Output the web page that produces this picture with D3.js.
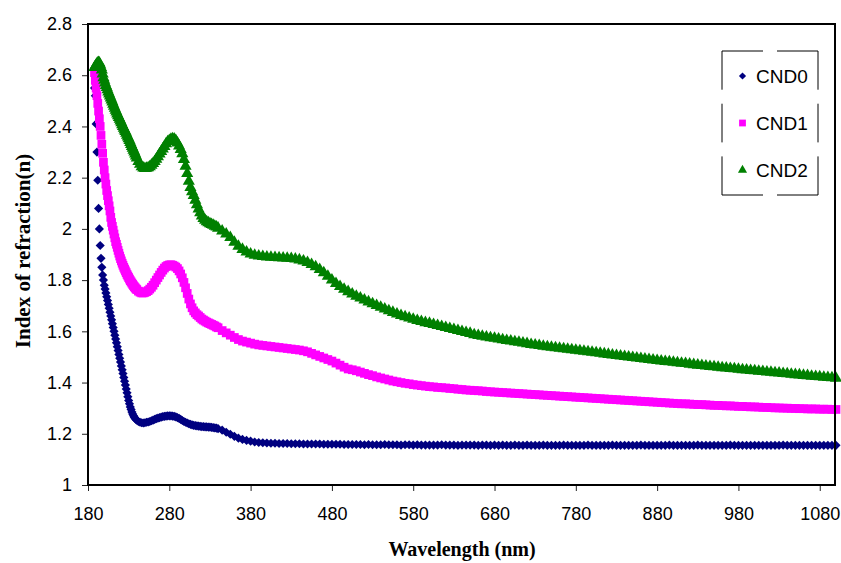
<!DOCTYPE html>
<html>
<head>
<meta charset="utf-8">
<script src="https://cdn.jsdelivr.net/npm/d3@7"></script>
<style>
  body { margin: 0; background: #fff; }
  svg text { font-family: Arial, "Liberation Sans", sans-serif; fill: #000; }
</style>
</head>
<body>
<div id="chart"></div>
<script>
// wavelength samples (nm)
const wavelength = [
  188,189,190,191,192,193,194,195,196,197,198,199,200,201,202,203,204,205,206,207,
  208,209,210,211,212,213,214,215,216,217,218,219,220,
  221,222,223,224,225,226,227,228,229,230,231,232,233,234,235,236,237,238,239,240,
  242,244,246,248,250,252,254,256,258,260,
  262,264,266,268,270,272,274,276,278,280,
  282,284,286,288,290,292,294,296,298,300,
  302,304,306,308,310,312,314,316,318,320,
  322,324,326,328,330,332,334,336,338,340,
  345,350,
  355,360,365,370,375,380,385,390,395,400,
  405,410,415,420,425,430,435,440,445,450,
  455,460,465,470,475,480,485,490,495,500,
  505,510,515,520,525,530,535,540,545,550,
  555,560,565,570,575,580,585,590,595,600,
  605,610,615,620,625,630,635,640,645,650,
  655,660,665,670,675,680,685,690,695,700,
  705,710,715,720,725,730,735,740,745,750,
  755,760,765,770,775,780,785,790,795,800,
  805,810,815,820,825,830,835,840,845,850,
  855,860,865,870,875,880,885,890,895,900,
  905,910,915,920,925,930,935,940,945,950,
  955,960,965,970,975,980,985,990,995,1000,
  1005,1010,1015,1020,1025,1030,1035,1040,1045,1050,
  1055,1060,1065,1070,1075,1080,1085,1090,1095,1100
];

const cnd0 = [
  2.55,2.52,2.41,2.30,2.19,2.08,2.00,1.935,1.885,1.85,1.82,1.80,1.78,1.765,1.75,1.735,1.72,1.705,1.69,1.675,
  1.66,1.645,1.63,1.615,1.60,1.585,1.57,1.555,1.54,1.525,1.51,1.495,1.48,
  1.465,1.45,1.435,1.42,1.405,1.39,1.375,1.36,1.345,1.33,1.317,1.305,1.295,1.285,1.277,1.27,1.265,1.26,1.256,1.253,
  1.248,1.245,1.243,1.242,1.243,1.245,1.246,1.248,1.251,1.253,
  1.256,1.259,1.261,1.263,1.265,1.267,1.268,1.269,1.27,1.27,
  1.27,1.269,1.268,1.266,1.263,1.26,1.256,1.252,1.248,1.245,
  1.242,1.239,1.237,1.235,1.233,1.232,1.231,1.23,1.229,1.228,
  1.228,1.227,1.227,1.226,1.226,1.225,1.224,1.223,1.222,1.22,
  1.214,1.206,
  1.198,1.19,1.183,1.178,1.174,1.171,1.168,1.166,1.165,1.164,
  1.163,1.163,1.162,1.162,1.162,1.161,1.161,1.161,1.16,1.16,
  1.16,1.16,1.16,1.159,1.159,1.159,1.159,1.159,1.158,1.158,
  1.158,1.158,1.158,1.157,1.158,1.157,1.157,1.157,1.158,1.157,
  1.157,1.157,1.156,1.157,1.157,1.156,1.157,1.156,1.156,1.156,
  1.156,1.156,1.157,1.156,1.156,1.156,1.155,1.156,1.156,1.156,
  1.156,1.155,1.156,1.156,1.155,1.156,1.155,1.156,1.155,1.155,
  1.156,1.155,1.155,1.156,1.155,1.155,1.155,1.156,1.155,1.155,
  1.155,1.155,1.156,1.155,1.155,1.155,1.155,1.155,1.156,1.155,
  1.155,1.155,1.155,1.155,1.156,1.155,1.155,1.155,1.155,1.155,
  1.155,1.156,1.155,1.155,1.155,1.155,1.155,1.155,1.156,1.155,
  1.155,1.155,1.155,1.155,1.155,1.156,1.155,1.155,1.155,1.155,
  1.155,1.155,1.155,1.156,1.155,1.155,1.155,1.155,1.155,1.155,
  1.155,1.155,1.155,1.155,1.155,1.155,1.156,1.155,1.155,1.155,
  1.155,1.155,1.155,1.155,1.155,1.155,1.155,1.155,1.155,1.155
];

const cnd1 = [
  2.61,2.58,2.55,2.52,2.49,2.46,2.43,2.40,2.365,2.33,2.295,2.26,2.23,2.20,2.175,2.15,2.13,2.11,2.09,2.07,
  2.045,2.025,2.01,1.995,1.98,1.965,1.95,1.94,1.928,1.916,1.905,1.894,1.884,
  1.875,1.866,1.858,1.85,1.843,1.836,1.829,1.822,1.816,1.81,1.804,1.798,1.793,1.788,1.783,1.778,1.774,1.77,1.766,1.763,
  1.757,1.753,1.75,1.75,1.752,1.755,1.759,1.765,1.772,1.78,
  1.79,1.8,1.81,1.82,1.83,1.839,1.847,1.853,1.857,1.859,
  1.86,1.858,1.855,1.851,1.845,1.836,1.824,1.809,1.791,1.77,
  1.748,1.726,1.707,1.692,1.68,1.672,1.665,1.66,1.654,1.648,
  1.644,1.64,1.636,1.633,1.63,1.627,1.624,1.621,1.617,1.614,
  1.603,1.594,
  1.585,1.576,1.568,1.562,1.558,1.554,1.55,1.547,1.545,1.543,
  1.541,1.539,1.537,1.535,1.533,1.531,1.529,1.527,1.524,1.52,
  1.514,1.508,1.502,1.496,1.49,1.484,1.476,1.468,1.46,1.453,
  1.45,1.446,1.441,1.436,1.431,1.427,1.422,1.418,1.414,1.41,
  1.406,1.403,1.4,1.397,1.395,1.392,1.39,1.388,1.386,1.384,
  1.383,1.381,1.38,1.379,1.377,1.376,1.374,1.373,1.371,1.37,
  1.369,1.368,1.367,1.365,1.364,1.363,1.362,1.361,1.36,1.359,
  1.358,1.357,1.356,1.355,1.354,1.353,1.352,1.351,1.35,1.349,
  1.348,1.347,1.346,1.345,1.344,1.343,1.342,1.341,1.34,1.339,
  1.338,1.337,1.336,1.335,1.334,1.333,1.332,1.331,1.33,1.329,
  1.328,1.327,1.326,1.325,1.324,1.323,1.322,1.321,1.32,1.319,
  1.318,1.317,1.317,1.316,1.315,1.314,1.314,1.313,1.312,1.311,
  1.311,1.31,1.309,1.309,1.308,1.307,1.307,1.306,1.305,1.305,
  1.304,1.303,1.303,1.302,1.301,1.301,1.3,1.3,1.299,1.299,
  1.298,1.298,1.297,1.297,1.297,1.296,1.296,1.296,1.295,1.295
];

const cnd2 = [
  2.63,2.635,2.64,2.645,2.648,2.65,2.648,2.64,2.63,2.62,2.605,2.59,2.58,2.57,2.56,2.552,2.543,2.535,2.527,2.519,
  2.511,2.503,2.495,2.487,2.479,2.471,2.463,2.456,2.449,2.442,2.435,2.428,2.421,
  2.414,2.407,2.4,2.393,2.386,2.38,2.373,2.366,2.359,2.352,2.345,2.337,2.33,2.322,2.315,2.307,2.3,2.292,2.285,2.277,
  2.263,2.252,2.243,2.238,2.236,2.237,2.239,2.243,2.249,2.255,
  2.263,2.272,2.282,2.292,2.302,2.312,2.322,2.332,2.34,2.345,
  2.35,2.352,2.351,2.345,2.335,2.324,2.31,2.293,2.271,2.245,
  2.216,2.186,2.162,2.145,2.13,2.112,2.094,2.078,2.063,2.05,
  2.041,2.034,2.028,2.024,2.02,2.017,2.014,2.01,2.007,2.003,
  1.992,1.98,
  1.966,1.948,1.932,1.92,1.91,1.902,1.897,1.894,1.892,1.89,
  1.889,1.888,1.887,1.886,1.885,1.884,1.882,1.879,1.875,1.869,
  1.861,1.852,1.841,1.829,1.815,1.8,1.787,1.775,1.764,1.755,
  1.746,1.737,1.73,1.722,1.715,1.708,1.701,1.694,1.687,1.68,
  1.674,1.668,1.662,1.657,1.652,1.647,1.642,1.638,1.634,1.631,
  1.627,1.623,1.619,1.615,1.611,1.607,1.603,1.599,1.595,1.592,
  1.587,1.584,1.581,1.578,1.575,1.573,1.57,1.567,1.564,1.562,
  1.559,1.557,1.554,1.552,1.549,1.547,1.545,1.542,1.54,1.538,
  1.536,1.534,1.532,1.53,1.528,1.526,1.524,1.522,1.52,1.518,
  1.516,1.514,1.512,1.51,1.508,1.506,1.504,1.502,1.5,1.498,
  1.496,1.494,1.492,1.49,1.488,1.486,1.484,1.482,1.481,1.479,
  1.477,1.475,1.474,1.472,1.47,1.468,1.467,1.465,1.463,1.462,
  1.46,1.458,1.457,1.455,1.454,1.452,1.45,1.449,1.447,1.446,
  1.444,1.443,1.441,1.44,1.438,1.437,1.435,1.434,1.432,1.431,
  1.43,1.428,1.427,1.425,1.424,1.423,1.421,1.42,1.419,1.417
];

const seriesNames = ["CND0", "CND1", "CND2"];
const seriesColors = ["#000080", "#ff00ff", "#008000"];
const xTicks = [180, 280, 380, 480, 580, 680, 780, 880, 980, 1080];
const yTicks = [1, 1.2, 1.4, 1.6, 1.8, 2, 2.2, 2.4, 2.6, 2.8];

drawChart();

function drawChart() {
  const width = 841, height = 563;
  const plot = { left: 88, right: 836, top: 24, bottom: 485 };

  const svg = d3
    .select("#chart")
    .append("svg")
    .attr("width", width)
    .attr("height", height);

  const x = d3.scaleLinear().domain([180, 1100]).range([plot.left, plot.right]);
  const y = d3.scaleLinear().domain([1, 2.8]).range([plot.bottom, plot.top]);

  // axes (ticks + labels only, the frame is drawn separately)
  const xAxis = svg
    .append("g")
    .attr("transform", `translate(0,${plot.bottom})`)
    .call(d3.axisBottom(x).tickValues(xTicks).tickSize(6).tickPadding(16).tickFormat(d3.format("d")));
  xAxis.select(".domain").remove();
  xAxis.selectAll("line").attr("stroke", "#222");
  xAxis.selectAll("text").style("font-size", "18px").style("font-family", "Arial, 'Liberation Sans'");

  const yAxis = svg
    .append("g")
    .attr("transform", `translate(${plot.left},0)`)
    .call(d3.axisLeft(y).tickValues(yTicks).tickSize(6).tickPadding(10).tickFormat(d3.format("~g")));
  yAxis.select(".domain").remove();
  yAxis.selectAll("line").attr("stroke", "#222");
  yAxis.selectAll("text").style("font-size", "18px").style("font-family", "Arial, 'Liberation Sans'");

  // marker shapes per series (plot size / legend size)
  const shapes = [
    { type: d3.symbolSquare, size: 42, legend: 26, rotate: 45 },
    { type: d3.symbolSquare, size: 76, legend: 46, rotate: 0 },
    { type: d3.symbolTriangle, size: 64, legend: 36, rotate: 0 }
  ];

  const seriesData = [cnd0, cnd1, cnd2];
  seriesData.forEach((values, i) => {
    const pts = wavelength.map((w, j) => ({ w: w, n: values[j] }));
    const sym = d3.symbol().type(shapes[i].type).size(shapes[i].size);
    svg
      .append("g")
      .selectAll("path")
      .data(pts)
      .join("path")
      .attr("d", sym)
      .attr("transform", (d) => `translate(${x(d.w)},${y(d.n)}) rotate(${shapes[i].rotate})`)
      .attr("fill", seriesColors[i]);
  });

  // plot frame
  svg
    .append("rect")
    .attr("x", plot.left)
    .attr("y", plot.top)
    .attr("width", plot.right - plot.left - 1)
    .attr("height", plot.bottom - plot.top)
    .attr("fill", "none")
    .attr("stroke", "#000")
    .attr("stroke-width", 2);

  // legend with dashed border
  const lg = { x0: 722, x1: 818, y0: 51, y1: 195 };
  const border = svg.append("g").attr("stroke", "#000").attr("stroke-width", 1);
  border.append("line").attr("x1", lg.x0).attr("y1", lg.y0).attr("x2", lg.x1).attr("y2", lg.y0).attr("stroke-dasharray", "41,14");
  border.append("line").attr("x1", lg.x0).attr("y1", lg.y1).attr("x2", lg.x1).attr("y2", lg.y1).attr("stroke-dasharray", "41,14");
  border.append("line").attr("x1", lg.x0).attr("y1", lg.y0).attr("x2", lg.x0).attr("y2", lg.y1).attr("stroke-dasharray", "38.7,14");
  border.append("line").attr("x1", lg.x1).attr("y1", lg.y0).attr("x2", lg.x1).attr("y2", lg.y1).attr("stroke-dasharray", "38.7,14");

  const legendY = [76, 123, 170];
  seriesNames.forEach((name, i) => {
    const sym = d3.symbol().type(shapes[i].type).size(shapes[i].legend);
    svg
      .append("path")
      .attr("d", sym)
      .attr("transform", `translate(742.5,${legendY[i]}) rotate(${shapes[i].rotate})`)
      .attr("fill", seriesColors[i]);
    svg
      .append("text")
      .attr("x", 756)
      .attr("y", legendY[i])
      .attr("dy", "0.36em")
      .style("font-size", "19px")
      .text(name);
  });

  // axis titles
  svg
    .append("text")
    .attr("x", 462)
    .attr("y", 556)
    .attr("text-anchor", "middle")
    .style("font-family", "'Times New Roman', 'Liberation Serif', serif")
    .style("font-weight", "bold")
    .style("font-size", "20px")
    .text("Wavelength (nm)");

  svg
    .append("text")
    .attr("transform", "translate(30,251) rotate(-90)")
    .attr("text-anchor", "middle")
    .style("font-family", "'Times New Roman', 'Liberation Serif', serif")
    .style("font-weight", "bold")
    .style("font-size", "21px")
    .text("Index of refraction(n)");
}
</script>
</body>
</html>
